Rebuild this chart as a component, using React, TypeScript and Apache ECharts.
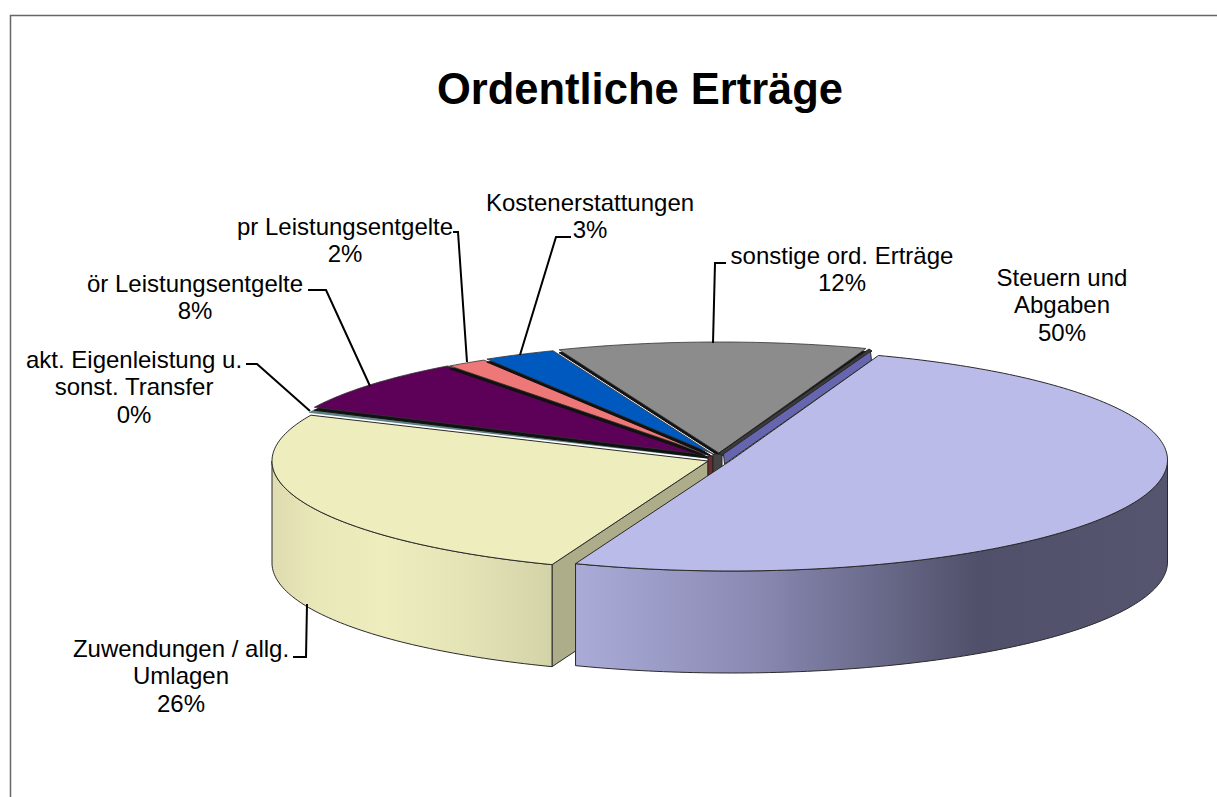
import React, { useEffect, useRef } from "react";
import * as echarts from "echarts";

const titleText = "Ordentliche Erträge";
const categories = [
  "Steuern und\nAbgaben",
  "Zuwendungen / allg.\nUmlagen",
  "akt. Eigenleistung u.\nsonst. Transfer",
  "ör Leistungsentgelte",
  "pr Leistungsentgelte",
  "Kostenerstattungen",
  "sonstige ord. Erträge",
];
const values = [50.35, 25.95, 0.3, 7.75, 1.5, 2.7, 11.45];
const percentLabels = ["50%", "26%", "0%", "8%", "2%", "3%", "12%"];

// Layout and styling, by slice
const START_DEG = 19.7;
const DEPTH = 102;
const RY = 111;
const RX = 436;
const centers = [[731.5, 460], [708, 461], [708, 458], [708, 455], [710, 455], [713, 454], [719, 453]];
const colors = ["#BBBBEA", "#EDEDBD", "#5F7F80", "#5C0058", "#EE7777", "#0059BE", "#8C8C8C"];
const paintOrder = [1, 2, 3, 4, 5, 6, 0];
const labelCenters = [[1062, 277], [181, 648], [134, 359], [195, 283], [345, 226], [590, 202], [842, 255]];
const leaderLines = [
  null,
  [[293, 657], [306, 657], [307, 604]],
  [[246, 364], [257, 364], [310, 411]],
  [[308, 290], [326, 290], [370, 386]],
  [[453, 232], [458, 232], [467, 362]],
  [[571, 237], [556, 237], [520, 355]],
  [[726, 263], [715, 263], [713, 343]],
];

const total = values.reduce((a, b) => a + b, 0);
const startAngles: number[] = [];
values.reduce((acc, v, i) => {
  startAngles[i] = acc;
  return acc + (v / total) * 360;
}, START_DEG);

function pt(i: number, deg: number, dy = 0) {
  const t = (deg * Math.PI) / 180;
  return [centers[i][0] + RX * Math.sin(t), centers[i][1] - RY * Math.cos(t) + dy];
}
function arc(i: number, a: number, b: number, dy = 0) {
  const pts: number[][] = [];
  const n = Math.max(2, Math.ceil(Math.abs(b - a)));
  for (let k = 0; k <= n; k++) pts.push(pt(i, a + ((b - a) * k) / n, dy));
  return pts;
}
const poly = (points: number[][], fill: any, stroke = "#2a2a2a", lineWidth = 1) => ({
  type: "polygon",
  shape: { points },
  style: { fill, stroke, lineWidth },
  silent: true,
});
const grad = (stops: [number, string][]) =>
  new echarts.graphic.LinearGradient(0, 0, 1, 0, stops.map(([offset, color]) => ({ offset, color })));

function renderSlice(_: any, api: any) {
  const i = api.value(0) as number;
  const a = startAngles[i];
  const b = a + (api.value(1) / total) * 360;
  const c = centers[i];
  const surface = [c, ...arc(i, a, b)];
  const children: any[] = [];
  if (i === 0) {
    // the dark core seen in the gap between the slices
    children.push(poly([[708, 456], [713, 456], [713, 478], [708, 478]], "#6A2C30", "#222"));
    children.push(poly([[713, 454], [722, 454], [722, 478], [713, 478]], "#444444", "#222"));
    children.push(poly([[719, 453], [869, 349], [872, 351], [723, 456]], "#3a3a3a", "#222"));
    // outer wall
    children.push(
      poly(
        [...arc(i, 90, b), ...arc(i, b, 90, DEPTH)],
        grad([[0, "#ABABD8"], [0.3, "#8A8AB4"], [0.68, "#50506A"], [1, "#555570"]])
      )
    );
    // inner wall strip
    const corner = pt(i, a);
    children.push(
      poly(
        [[c[0] - 7, c[1] + 4], [corner[0] - 7, corner[1] + 5], [corner[0] - 8, corner[1] - 4], [c[0] - 8, c[1] - 6]],
        "#6666B0"
      )
    );
    children.push(poly(surface, colors[i]));
  } else if (i === 1) {
    const low = pt(i, a);
    children.push(poly([[...c], low, [low[0], low[1] + DEPTH], [c[0], c[1] + DEPTH]], "#ADAD8A"));
    children.push(
      poly(
        [...arc(i, a, 270), ...arc(i, 270, a, DEPTH)],
        grad([[0, "#DEDCB0"], [0.15, "#E8E7B8"], [0.4, "#EEEDBE"], [0.7, "#E4E3B6"], [1, "#D3D3A8"]])
      )
    );
    children.push(poly(surface, colors[i]));
  } else if (i === 2) {
    children.push(poly(surface, colors[i], colors[i], 1.5));
  } else {
    children.push(poly(surface.map((p) => [p[0], p[1] + 3]), "#111", "#111"));
    children.push(poly(surface, colors[i], "#333", 0.8));
  }
  return { type: "group", children };
}

export default function App() {
  const ref = useRef<HTMLDivElement>(null);
  useEffect(() => {
    const chart = echarts.init(ref.current!, null, { renderer: "svg" });
    const graphics: any[] = [
      {
        type: "polyline",
        shape: { points: [[10.5, 797], [10.5, 15.5], [1217, 15.5]] },
        style: { stroke: "#666", lineWidth: 1.5, fill: "none" },
        z: 1,
      },
    ];
    categories.forEach((cat, i) => {
      const line = leaderLines[i];
      if (line) {
        graphics.push({
          type: "polyline",
          shape: { points: line },
          style: { stroke: "#000", lineWidth: 2, fill: "none" },
          z: 5,
        });
      }
      const lines = [...cat.split("\n"), percentLabels[i]];
      lines.forEach((t, k) => {
        graphics.push({
          type: "text",
          x: labelCenters[i][0],
          y: labelCenters[i][1] + k * 27.5,
          style: {
            text: t,
            fill: "#000",
            font: '24px "Liberation Sans"',
            textAlign: "center",
            textVerticalAlign: "middle",
          },
          z: 6,
        });
      });
    });
    chart.setOption({
      animation: false,
      backgroundColor: "#fff",
      title: {
        text: titleText,
        left: 635,
        top: 62,
        textAlign: "center",
        textStyle: { fontFamily: "Liberation Sans", fontWeight: "bold", fontSize: 43.5, color: "#000" },
      },
      graphic: graphics,
      series: [
        {
          type: "custom",
          coordinateSystem: "none",
          renderItem: renderSlice,
          silent: true,
          z: 3,
          data: paintOrder.map((i) => [i, values[i]]),
        },
      ],
    });
    return () => chart.dispose();
  }, []);
  return <div ref={ref} style={{ position: "fixed", left: 0, top: 0, width: 1217, height: 797 }} />;
}
